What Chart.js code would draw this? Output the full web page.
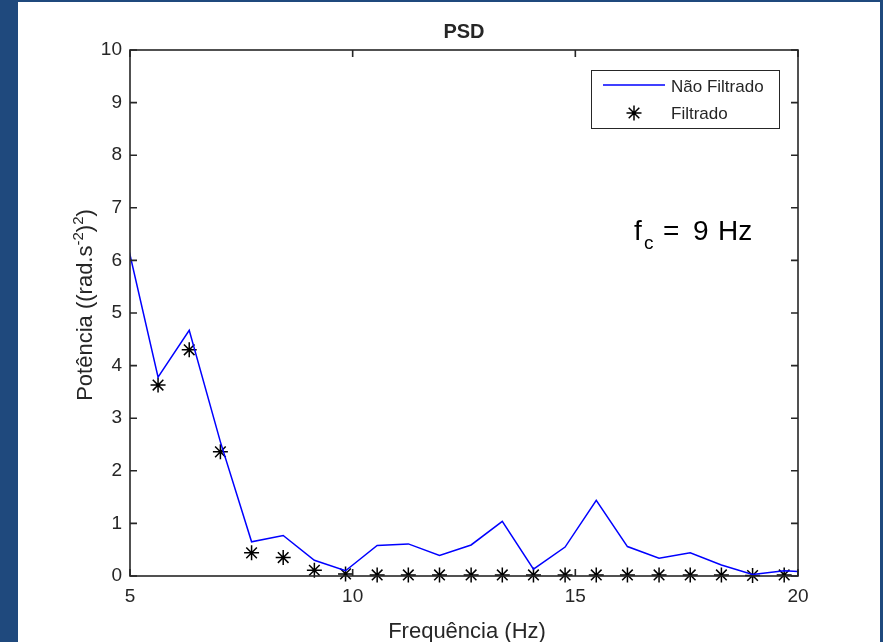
<!DOCTYPE html>
<html>
<head>
<meta charset="utf-8">
<script src="https://cdn.jsdelivr.net/npm/chart.js@4.4.1/dist/chart.umd.min.js"></script>
<style>
  html, body { margin: 0; padding: 0; background: #1f497d; }
  #wrap { position: relative; width: 883px; height: 642px; overflow: hidden; }
  #panel { position: absolute; left: 18px; top: 2px; width: 862px; height: 640px; background: #fff; }
  #box { position: absolute; left: 0; top: 0; width: 883px; height: 642px; }
</style>
</head>
<body>
<div id="wrap">
  <div id="panel"></div>
  <div id="box"><canvas id="psd"></canvas></div>
</div>
<script>
// frequências (Hz) e potências
const freqs = [4.92, 5.63, 6.33, 7.03, 7.73, 8.44, 9.14, 9.84, 10.55, 11.25, 11.95, 12.66,
               13.36, 14.06, 14.77, 15.47, 16.17, 16.88, 17.58, 18.28, 18.98, 19.69, 20.39];
const naoFiltrado = [6.40, 3.78, 4.67, 2.55, 0.65, 0.77, 0.30, 0.10, 0.58, 0.61, 0.39, 0.59,
                     1.04, 0.13, 0.55, 1.44, 0.56, 0.34, 0.44, 0.21, 0.03, 0.10, 0.07];
const freqsFiltrado = [5.63, 6.33, 7.03, 7.73, 8.44, 9.14, 9.84, 10.55, 11.25, 11.95, 12.66,
                       13.36, 14.06, 14.77, 15.47, 16.17, 16.88, 17.58, 18.28, 18.98, 19.69];
const filtrado = [3.63, 4.30, 2.36, 0.44, 0.35, 0.11, 0.04, 0.02, 0.02, 0.02, 0.02,
                  0.02, 0.02, 0.02, 0.02, 0.02, 0.02, 0.02, 0.02, 0.01, 0.02];
const xTicks = [5, 10, 15, 20];
const yTicks = [0, 1, 2, 3, 4, 5, 6, 7, 8, 9, 10];

const axisColor = '#262626';
const fontFamily = "'Liberation Sans', Arial, Helvetica, sans-serif";

function drawStar(ctx, cx, cy, r) {
  ctx.beginPath();
  ctx.moveTo(cx - r, cy); ctx.lineTo(cx + r, cy);
  ctx.moveTo(cx, cy - r); ctx.lineTo(cx, cy + r);
  const d = r * Math.SQRT1_2;
  ctx.moveTo(cx - d, cy - d); ctx.lineTo(cx + d, cy + d);
  ctx.moveTo(cx - d, cy + d); ctx.lineTo(cx + d, cy - d);
  ctx.stroke();
}

const decor = {
  id: 'decor',
  afterDatasetsDraw(chart) {
    const { ctx, chartArea: a, scales: { x, y } } = chart;
    ctx.save();

    // caixa dos eixos + ticks para dentro
    ctx.strokeStyle = axisColor;
    ctx.lineWidth = 1.6;
    ctx.strokeRect(a.left, a.top, a.right - a.left, a.bottom - a.top);
    ctx.beginPath();
    xTicks.forEach(v => {
      const px = x.getPixelForValue(v);
      ctx.moveTo(px, a.bottom); ctx.lineTo(px, a.bottom - 7);
      ctx.moveTo(px, a.top); ctx.lineTo(px, a.top + 7);
    });
    yTicks.forEach(v => {
      const py = y.getPixelForValue(v);
      ctx.moveTo(a.left, py); ctx.lineTo(a.left + 7, py);
      ctx.moveTo(a.right, py); ctx.lineTo(a.right - 7, py);
    });
    ctx.stroke();

    ctx.fillStyle = axisColor;
    ctx.textBaseline = 'alphabetic';

    // título
    ctx.font = 'bold 20px ' + fontFamily;
    ctx.textAlign = 'center';
    ctx.fillText('PSD', 464, 38);

    // eixo x
    ctx.font = '22px ' + fontFamily;
    ctx.fillText('Frequência (Hz)', 467, 638);

    // eixo y com sobrescritos
    ctx.save();
    ctx.translate(92, 305);
    ctx.rotate(-Math.PI / 2);
    ctx.textAlign = 'left';
    const parts = [
      ['Potência ((rad.s', 22, 0],
      ['-2', 15, -9],
      [')', 22, 0],
      ['2', 15, -9],
      [')', 22, 0]
    ];
    let total = 0;
    parts.forEach(p => { ctx.font = p[1] + 'px ' + fontFamily; total += ctx.measureText(p[0]).width; });
    let cx = -total / 2;
    parts.forEach(p => {
      ctx.font = p[1] + 'px ' + fontFamily;
      ctx.fillText(p[0], cx, p[2]);
      cx += ctx.measureText(p[0]).width;
    });
    ctx.restore();

    // legenda
    ctx.fillStyle = '#fff';
    ctx.fillRect(591, 70, 188, 58);
    ctx.strokeStyle = axisColor;
    ctx.lineWidth = 1;
    ctx.strokeRect(591.5, 70.5, 188, 58);
    ctx.strokeStyle = '#0000ff';
    ctx.lineWidth = 1.5;
    ctx.beginPath(); ctx.moveTo(603, 85); ctx.lineTo(665, 85); ctx.stroke();
    ctx.strokeStyle = '#000';
    ctx.lineWidth = 1.5;
    drawStar(ctx, 634, 113, 7.5);
    ctx.fillStyle = axisColor;
    ctx.textAlign = 'left';
    ctx.font = '17px ' + fontFamily;
    ctx.fillText('Não Filtrado', 671, 92);
    ctx.fillText('Filtrado', 671, 119);

    // anotação fc
    ctx.fillStyle = '#000';
    ctx.font = '28px ' + fontFamily;
    ctx.fillText('f', 634, 240);
    ctx.fillText('=', 663, 240);
    ctx.fillText('9', 693, 240);
    ctx.fillText('Hz', 718, 240);
    ctx.font = '19px ' + fontFamily;
    ctx.fillText('c', 644, 249);

    ctx.restore();
  }
};

const ctx = document.getElementById('psd').getContext('2d');
new Chart(ctx, {
  type: 'scatter',
  data: {
    datasets: [
      {
        label: 'Não Filtrado',
        data: freqs.map((f, i) => ({ x: f, y: naoFiltrado[i] })),
        showLine: true,
        borderColor: '#0000ff',
        borderWidth: 1.5,
        pointRadius: 0,
        pointHoverRadius: 0,
        tension: 0
      },
      {
        label: 'Filtrado',
        data: freqsFiltrado.map((f, i) => ({ x: f, y: filtrado[i] })),
        showLine: false,
        pointStyle: 'star',
        pointRadius: 7.5,
        pointBorderColor: '#000',
        pointBackgroundColor: '#000',
        pointBorderWidth: 1.5,
        clip: false
      }
    ]
  },
  options: {
    responsive: true,
    maintainAspectRatio: false,
    devicePixelRatio: 1,
    animation: false,
    events: [],
    layout: { padding: { left: 100, right: 85, top: 50, bottom: 36 } },
    plugins: {
      legend: { display: false },
      title: { display: false },
      tooltip: { enabled: false }
    },
    scales: {
      x: {
        type: 'linear',
        min: 5,
        max: 20,
        afterFit: s => { s.height = 30; },
        afterBuildTicks: s => { s.ticks = xTicks.map(v => ({ value: v })); },
        ticks: { color: axisColor, font: { family: fontFamily, size: 19 }, padding: 9, maxRotation: 0 },
        grid: { display: false, drawTicks: false },
        border: { display: false }
      },
      y: {
        type: 'linear',
        min: 0,
        max: 10,
        afterFit: s => { s.width = 30; },
        afterBuildTicks: s => { s.ticks = yTicks.map(v => ({ value: v })); },
        ticks: { color: axisColor, font: { family: fontFamily, size: 19 }, padding: 8 },
        grid: { display: false, drawTicks: false },
        border: { display: false }
      }
    }
  },
  plugins: [decor]
});
</script>
</body>
</html>
